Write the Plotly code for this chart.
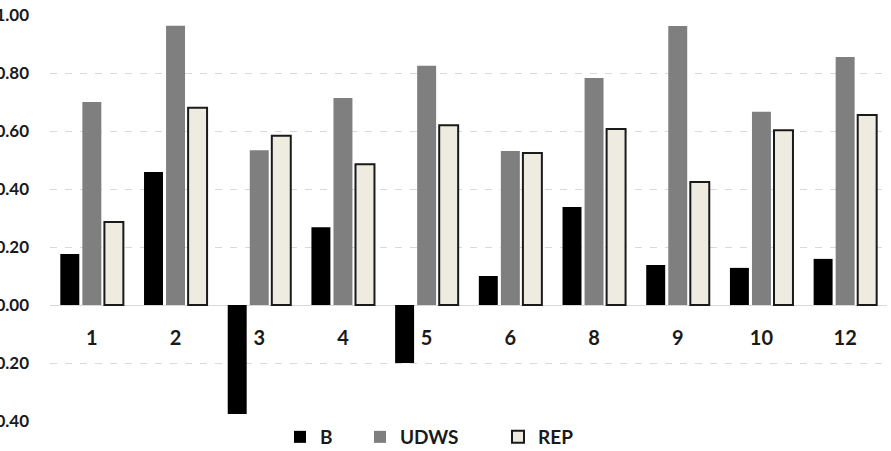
import plotly.graph_objects as go

categories = ["1", "2", "3", "4", "5", "6", "8", "9", "10", "12"]
b_values = [0.176, 0.459, -0.376, 0.268, -0.200, 0.100, 0.338, 0.138, 0.128, 0.159]
udws_values = [0.700, 0.963, 0.534, 0.714, 0.825, 0.531, 0.783, 0.962, 0.666, 0.855]
rep_values = [0.286, 0.680, 0.584, 0.485, 0.620, 0.524, 0.607, 0.424, 0.603, 0.655]
y_ticks = [-0.4, -0.2, 0.0, 0.2, 0.4, 0.6, 0.8, 1.0]

FONT = "Lato"
TXT = "#1a1a1a"

fig = go.Figure()
fig.add_trace(go.Bar(x=categories, y=b_values, name="B",
                     marker=dict(color="#000000", line=dict(color="#000000", width=0)),
                     legend="legend", showlegend=True))
fig.add_trace(go.Bar(x=categories, y=udws_values, name="UDWS",
                     marker=dict(color="#7f7f7f", line=dict(color="#7f7f7f", width=0)),
                     legend="legend2", showlegend=True))
fig.add_trace(go.Bar(x=categories, y=rep_values, name="REP",
                     marker=dict(color="#eeece1", line=dict(color="#1a1a1a", width=2)),
                     legend="legend3", showlegend=True))

W, H = 891, 451
L, R, T, B = 50, 4, 15, 30
pw, ph = W - L - R, H - T - B


def px_x(p):
    return (p - L) / pw


def px_y(p):
    return (H - B - p) / ph


leg_font = dict(family=FONT, size=19, color=TXT, weight=700)
legend_common = dict(orientation="h", yanchor="middle", xanchor="left",
                     y=px_y(437), font=leg_font, bgcolor="rgba(0,0,0,0)",
                     borderwidth=0, visible=True)

fig.update_layout(
    width=W, height=H, autosize=False,
    margin=dict(l=L, r=R, t=T, b=B, pad=0, autoexpand=False),
    paper_bgcolor="white", plot_bgcolor="white",
    showlegend=True,
    barmode="group", bargap=0.21, bargroupgap=0.14,
    legend=dict(x=px_x(280), **legend_common),
    legend2=dict(x=px_x(360), **legend_common),
    legend3=dict(x=px_x(498), **legend_common),
    xaxis=dict(type="category", categoryorder="array", categoryarray=categories,
               anchor="free", position=px_y(305),
               showgrid=False, showline=False, zeroline=False, ticks="",
               ticklabelstandoff=19,
               tickfont=dict(family=FONT, size=20, color=TXT, weight=700),
               automargin=False),
    yaxis=dict(range=[-0.4, 1.0], tickvals=y_ticks, tickformat=".2f",
               showgrid=True, gridcolor="#d9d9d9", griddash="7px,8px", gridwidth=1,
               zeroline=True, zerolinecolor="#d9d9d9", zerolinewidth=1,
               showline=False, ticks="", ticklabelstandoff=20,
               tickfont=dict(family=FONT, size=17, color=TXT, weight=700),
               automargin=False),
)

fig.write_html("out.html")
